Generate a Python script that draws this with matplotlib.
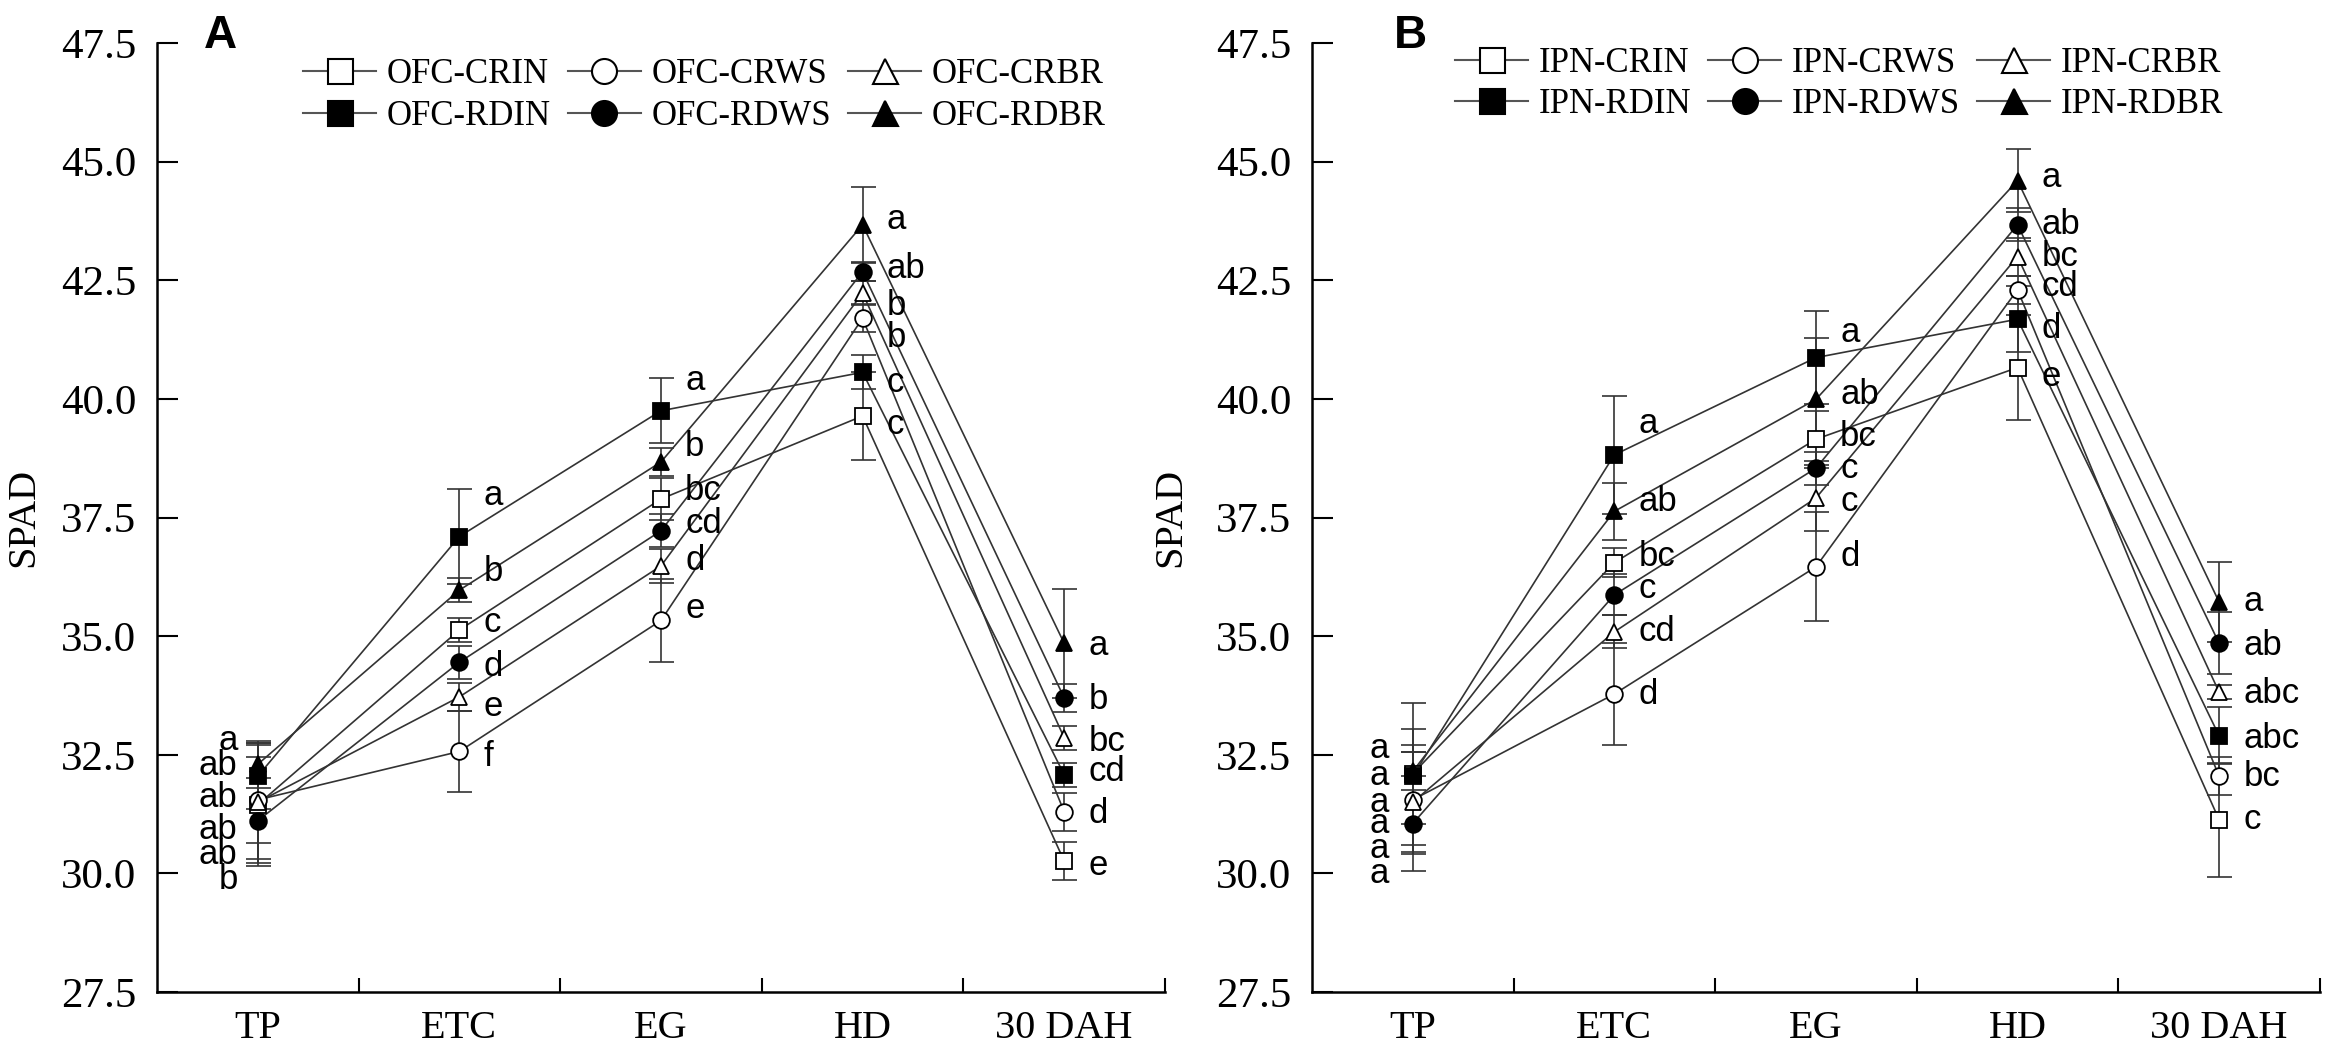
import numpy as np
import matplotlib
matplotlib.use("Agg")
import matplotlib.pyplot as plt
from matplotlib.ticker import FixedLocator, FormatStrFormatter, NullFormatter

# stages and treatments
stages = ["TP", "ETC", "EG", "HD", "30 DAH"]
codes = ["CRIN", "CRWS", "CRBR", "RDIN", "RDWS", "RDBR"]

# panel A: OFC, SPAD means and SD
ofc_crin = [31.45, 35.13, 37.89, 39.64, 30.26]
ofc_crws = [31.55, 32.57, 35.33, 41.70, 31.30]
ofc_crbr = [31.50, 33.72, 36.48, 42.23, 32.86]
ofc_rdin = [32.05, 37.10, 39.75, 40.56, 32.08]
ofc_rdws = [31.11, 34.45, 37.22, 42.68, 33.70]
ofc_rdbr = [32.30, 35.97, 38.67, 43.67, 34.85]

ofc_crin_sd = [1.30, 0.25, 0.44, 0.93, 0.40]
ofc_crws_sd = [0.90, 0.85, 0.87, 0.30, 0.40]
ofc_crbr_sd = [1.20, 0.30, 0.35, 0.25, 0.25]
ofc_rdin_sd = [0.70, 1.00, 0.69, 0.36, 0.25]
ofc_rdws_sd = [0.90, 0.35, 0.35, 0.20, 0.30]
ofc_rdbr_sd = [0.50, 0.25, 0.30, 0.80, 1.15]

# panel B: IPN
ipn_crin = [32.10, 36.55, 39.15, 40.66, 31.13]
ipn_crws = [31.55, 33.78, 36.46, 42.30, 32.05]
ipn_crbr = [31.50, 35.09, 37.91, 43.00, 33.82]
ipn_rdin = [32.05, 38.82, 40.87, 41.68, 32.90]
ipn_rdws = [31.05, 35.87, 38.54, 43.67, 34.85]
ipn_rdbr = [32.15, 37.63, 39.99, 44.60, 35.72]

ipn_crin_sd = [1.50, 0.30, 0.60, 1.10, 1.20]
ipn_crws_sd = [1.15, 1.08, 1.15, 0.30, 0.40]
ipn_crbr_sd = [1.05, 0.35, 0.70, 0.40, 0.15]
ipn_rdin_sd = [1.00, 1.24, 0.98, 0.70, 0.60]
ipn_rdws_sd = [1.00, 0.43, 0.35, 0.35, 0.65]
ipn_rdbr_sd = [0.40, 0.60, 1.30, 0.67, 0.85]

# significance letters per stage (top to bottom) and their label heights
ofc_letters = [["a", "ab", "ab", "ab", "ab", "b"],
               ["a", "b", "c", "d", "e", "f"],
               ["a", "b", "bc", "cd", "d", "e"],
               ["a", "ab", "b", "b", "c", "c"],
               ["a", "b", "bc", "cd", "d", "e"]]
ofc_letter_y = [[32.80, 32.27, 31.60, 30.93, 30.40, 29.88],
                [37.96, 36.37, 35.28, 34.36, 33.51, 32.46],
                [40.38, 39.00, 38.08, 37.37, 36.59, 35.59],
                [43.79, 42.75, 41.97, 41.30, 40.34, 39.45],
                [34.80, 33.67, 32.79, 32.14, 31.26, 30.17]]

ipn_letters = [["a", "a", "a", "a", "a", "a"],
               ["a", "ab", "bc", "c", "cd", "d"],
               ["a", "ab", "bc", "c", "c", "d"],
               ["a", "ab", "bc", "cd", "d", "e"],
               ["a", "ab", "abc", "abc", "bc", "c"]]
ipn_letter_y = [[32.63, 32.07, 31.50, 31.05, 30.52, 29.99],
                [39.49, 37.84, 36.68, 36.00, 35.09, 33.76],
                [41.40, 40.10, 39.20, 38.54, 37.84, 36.68],
                [44.67, 43.67, 43.00, 42.37, 41.48, 40.47],
                [35.72, 34.80, 33.80, 32.84, 32.05, 31.13]]

markers = {"CRIN": ("s", "white"), "CRWS": ("o", "white"), "CRBR": ("^", "white"),
           "RDIN": ("s", "black"), "RDWS": ("o", "black"), "RDBR": ("^", "black")}

SERIF = ["Liberation Serif", "DejaVu Serif"]
SANS = ["Liberation Sans", "DejaVu Sans"]

fig = plt.figure(figsize=(23.29, 10.49), dpi=100)
ax_a = fig.add_axes([0.0674, 0.0543, 0.4328, 0.9047])
ax_b = fig.add_axes([0.5633, 0.0543, 0.4328, 0.9047])

panels = [
    (ax_a, "OFC", [ofc_crin, ofc_crws, ofc_crbr, ofc_rdin, ofc_rdws, ofc_rdbr],
     [ofc_crin_sd, ofc_crws_sd, ofc_crbr_sd, ofc_rdin_sd, ofc_rdws_sd, ofc_rdbr_sd],
     ofc_letters, ofc_letter_y, -0.10, 0.145, 0.984),
    (ax_b, "IPN", [ipn_crin, ipn_crws, ipn_crbr, ipn_rdin, ipn_rdws, ipn_rdbr],
     [ipn_crin_sd, ipn_crws_sd, ipn_crbr_sd, ipn_rdin_sd, ipn_rdws_sd, ipn_rdbr_sd],
     ipn_letters, ipn_letter_y, -0.12, 0.142, 0.996),
]

x = np.arange(len(stages))

for ax, site, vals, sds, letters, letter_y, tp_dx, leg_x, leg_y in panels:
    handles = []
    for code, v, sd in zip(codes, vals, sds):
        m, face = markers[code]
        ax.errorbar(x, v, yerr=sd, fmt="none", ecolor="#333333", elinewidth=1.2,
                    capsize=9, capthick=1.2, zorder=2)
        ax.plot(x, v, color="#333333", lw=1.2, zorder=3)
        ax.plot(x, v, linestyle="none", marker=m, ms=12, mfc=face, mec="black",
                mew=1.3, zorder=4)
        h, = ax.plot([], [], color="#555555", lw=1.5, marker=m, ms=18, mfc=face,
                     mec="black", mew=1.5, label=f"{site}-{code}")
        handles.append(h)

    for i, (labs, ys) in enumerate(zip(letters, letter_y)):
        for lab, yy in zip(labs, ys):
            if i == 0:
                ax.text(i + tp_dx, yy, lab, ha="right", va="center",
                        fontsize=25, family=SANS)
            else:
                ax.text(i + 0.12, yy, lab, ha="left", va="center",
                        fontsize=25, family=SANS)

    # legend: 2 rows x 3 columns, filled row by row
    order = [handles[0], handles[3], handles[1], handles[4], handles[2], handles[5]]
    ax.legend(handles=order, ncol=3, loc="upper left", bbox_to_anchor=(leg_x, leg_y),
              frameon=False, borderpad=0, borderaxespad=0, handlelength=2.1,
              handletextpad=0.3, columnspacing=0.5, labelspacing=0.25,
              prop={"family": SERIF, "size": 25})

    ax.set_xlim(-0.5, 4.5)
    ax.set_ylim(27.5, 47.5)
    ax.set_yticks(np.arange(27.5, 47.6, 2.5))
    ax.yaxis.set_major_formatter(FormatStrFormatter("%.1f"))
    ax.xaxis.set_major_locator(FixedLocator([0.5, 1.5, 2.5, 3.5, 4.5]))
    ax.xaxis.set_major_formatter(NullFormatter())
    ax.xaxis.set_minor_locator(FixedLocator(x))
    ax.set_xticklabels(stages, minor=True)
    ax.tick_params(axis="x", which="major", direction="in", length=10, width=1.5)
    ax.tick_params(axis="x", which="minor", length=0, pad=13, labelsize=29)
    ax.tick_params(axis="y", direction="in", length=15, width=1.5, pad=15, labelsize=31)
    for lab in ax.get_xticklabels(minor=True) + ax.get_yticklabels():
        lab.set_family(SERIF)
    for s in ["top", "right"]:
        ax.spines[s].set_visible(False)
    for s in ["left", "bottom"]:
        ax.spines[s].set_linewidth(1.8)
    ax.set_ylabel("SPAD", fontsize=29, family=SERIF)

ax_a.yaxis.set_label_coords(-0.114, 0.5)
ax_b.yaxis.set_label_coords(-0.122, 0.5)

fig.text(204 / 2329, 1 - 48 / 1049, "A", fontsize=33, weight="bold", family=SANS)
fig.text(1394 / 2329, 1 - 48 / 1049, "B", fontsize=33, weight="bold", family=SANS)

fig.savefig("out.png", dpi=100)
